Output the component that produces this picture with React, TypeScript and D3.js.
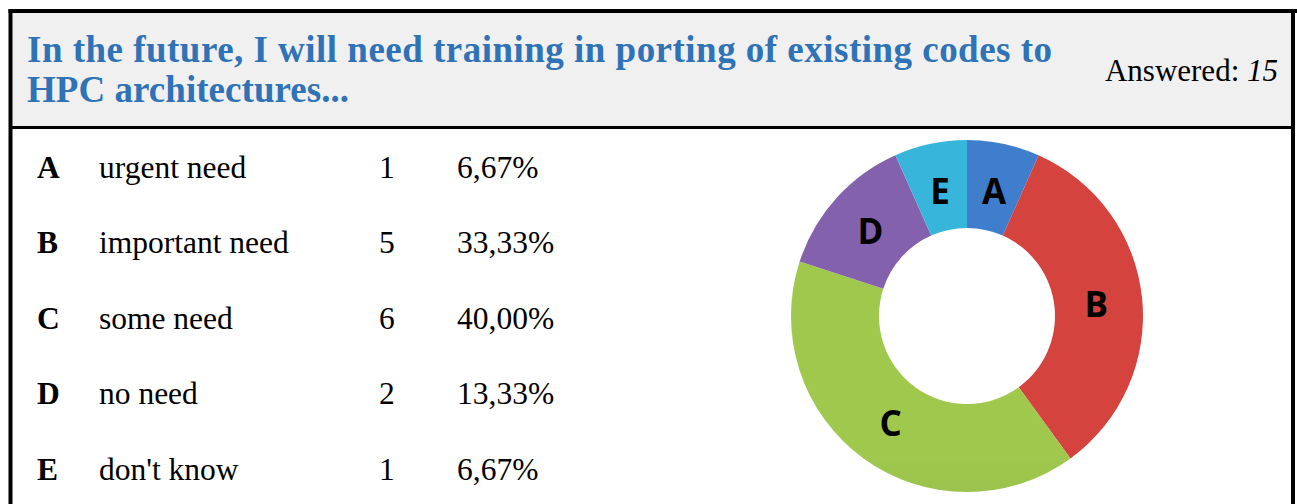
import React from "react";
import * as d3 from "d3";

const titleLines = [
  "In the future, I will need training in porting of existing codes to",
  "HPC architectures...",
];
const titleWidths = [1025, 322];
const answeredCount = 15;
const letters = ["A", "B", "C", "D", "E"];
const answers = ["urgent need", "important need", "some need", "no need", "don't know"];
const counts = [1, 5, 6, 2, 1];
const percents = ["6,67%", "33,33%", "40,00%", "13,33%", "6,67%"];
const topColors = ["#3f7ecd", "#d4433e", "#a0c84d", "#8461ad", "#38b5da"];
const bottomColors = ["#2b5590", "#962827", "#708f38", "#5d4282", "#2988a8"];

const W = 1297;
const H = 504;

export default function App() {
  const cx = 967;
  const cy = 316;
  const R = 176;
  const r = 88;
  const pie = d3
    .pie<number>()
    .sort(null)
    .value((d) => d)
    .startAngle(0)
    .endAngle(2 * Math.PI);
  const arcs = pie(counts);
  const arc = d3.arc<d3.PieArcDatum<number>>().innerRadius(r).outerRadius(R);
  const labelArc = d3.arc<d3.PieArcDatum<number>>().innerRadius(130).outerRadius(130);

  const rowY = d3.scalePoint<string>().domain(letters).range([177.5, 480]);
  const serif = "'Liberation Serif', 'Times New Roman', serif";

  return (
    <svg
      width={W}
      height={H}
      style={{ position: "absolute", left: 0, top: 0 }}
      xmlns="http://www.w3.org/2000/svg"
    >
      <defs>
        {letters.map((l, i) => (
          <linearGradient
            key={l}
            id={`g${l}`}
            gradientUnits="userSpaceOnUse"
            x1={0}
            y1={cy - R}
            x2={0}
            y2={cy + R}
          >
            <stop offset="0" stopColor={topColors[i]} />
            <stop offset="1" stopColor={bottomColors[i]} />
          </linearGradient>
        ))}
      </defs>
      <rect x={0} y={0} width={W} height={H} fill="#ffffff" />
      <rect x={12.5} y={13} width={1278.5} height={113} fill="#f0f0f0" />
      <line x1={8.5} x2={1297} y1={11} y2={11} stroke="#000" strokeWidth={4} />
      <line x1={10.5} x2={10.5} y1={9} y2={H} stroke="#000" strokeWidth={4} />
      <line x1={1293} x2={1293} y1={9} y2={H} stroke="#000" strokeWidth={4} />
      <line x1={10.5} x2={1293} y1={127.5} y2={127.5} stroke="#000" strokeWidth={3} />

      {titleLines.map((t, i) => (
        <text
          key={i}
          x={27}
          y={62 + i * 40}
          fontFamily={serif}
          fontWeight="bold"
          fontSize={37}
          fill="#2f73b6"
          textLength={titleWidths[i]}
          lengthAdjust="spacing"
        >
          {t}
        </text>
      ))}
      <text x={1278} y={81} textAnchor="end" fontFamily={serif} fontSize={31} fill="#000">
        Answered: <tspan fontStyle="italic">{answeredCount}</tspan>
      </text>

      {letters.map((l, i) => {
        const y = rowY(l) as number;
        return (
          <g key={l} fontFamily={serif} fontSize={31.5} fill="#000">
            <text x={37} y={y} fontWeight="bold">
              {l}
            </text>
            <text x={99} y={y}>
              {answers[i]}
            </text>
            <text x={379} y={y}>
              {counts[i]}
            </text>
            <text x={457} y={y}>
              {percents[i]}
            </text>
          </g>
        );
      })}

      {arcs.map((a, i) => (
        <path
          key={i}
          d={arc(a) || ""}
          transform={`translate(${cx},${cy})`}
          fill={`url(#g${letters[i]})`}
        />
      ))}
      {arcs.map((a, i) => {
        const [lx, ly] = labelArc.centroid(a);
        return (
          <text
            key={i}
            x={cx + lx}
            y={cy + ly + 15}
            textAnchor="middle"
            fontFamily="'Open Sans', sans-serif"
            fontWeight="bold"
            fontSize={35}
            fill="#000"
          >
            {letters[i]}
          </text>
        );
      })}
    </svg>
  );
}
